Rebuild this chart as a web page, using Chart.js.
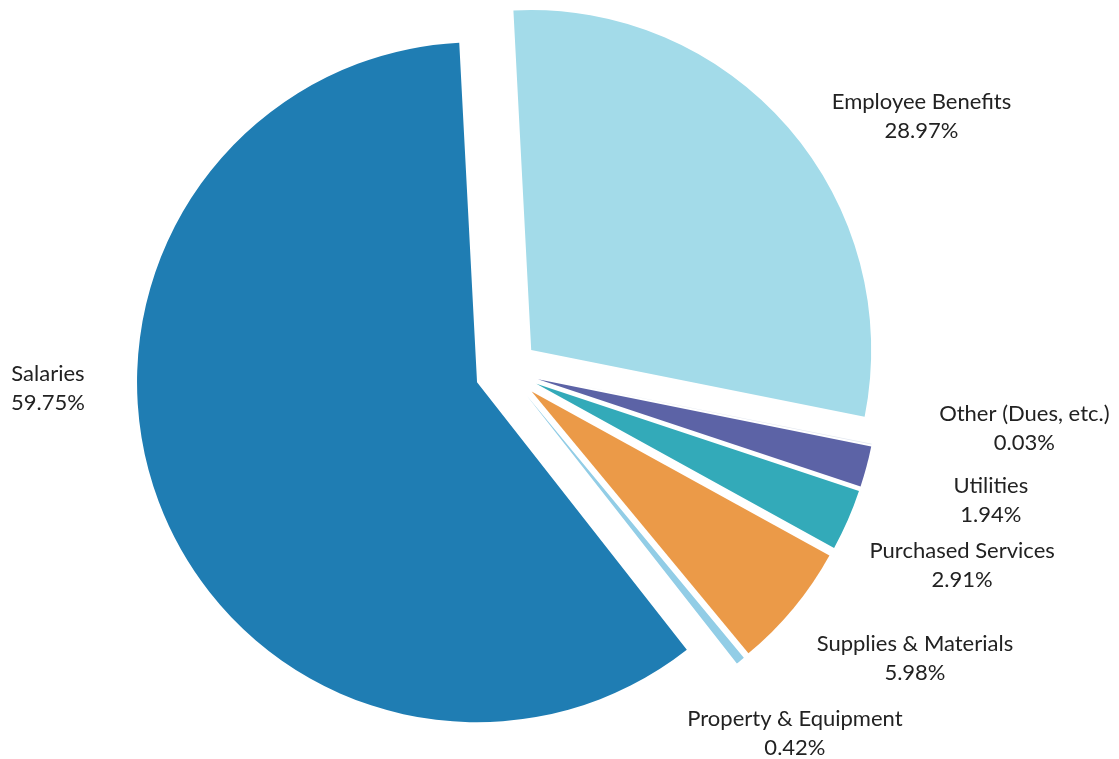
<!DOCTYPE html>
<html>
<head>
<meta charset="utf-8">
<title>Expenditures by Category</title>
<script src="https://cdn.jsdelivr.net/npm/chart.js@4/dist/chart.umd.min.js"></script>
<style>
  html, body { margin: 0; padding: 0; background: #fff; }
  #wrap { width: 1119px; height: 759px; position: relative; }
</style>
</head>
<body>
<div id="wrap"><canvas id="expenseChart"></canvas></div>
<script>
const categories = [
  'Employee Benefits',
  'Other (Dues, etc.)',
  'Utilities',
  'Purchased Services',
  'Supplies & Materials',
  'Property & Equipment',
  'Salaries'
];
const shares = [28.97, 0.03, 1.94, 2.91, 5.98, 0.42, 59.75];

const sliceColors = ['#a3dbe9', '#e3e8f0', '#5c63a6', '#33aab9', '#eb9a48', '#92cde6', '#1f7db3'];

// label placement, relative to a point just outside each slice
const labelShift = [
  [118, 1], [133, -20], [105, 28], [96, 37], [106, 37], [42, 57], [-92, -121]
];

const EXPLODE = 32;   // every slice pulled out by the same distance
const PIE_RADIUS = 340;

// push each arc out along its middle angle
const explodePlugin = {
  id: 'explode',
  afterDatasetUpdate(chart, args) {
    const meta = args.meta;
    meta.data.forEach(arc => {
      const mid = (arc.startAngle + arc.endAngle) / 2;
      arc.x += Math.cos(mid) * EXPLODE;
      arc.y += Math.sin(mid) * EXPLODE;
    });
  }
};

const sliceLabels = {
  id: 'sliceLabels',
  afterDatasetsDraw(chart) {
    const ctx = chart.ctx;
    const meta = chart.getDatasetMeta(0);
    ctx.save();
    ctx.font = '22px Lato';
    ctx.fillStyle = '#222';
    ctx.textAlign = 'center';
    ctx.textBaseline = 'middle';
    meta.data.forEach((arc, i) => {
      const mid = (arc.startAngle + arc.endAngle) / 2;
      const r = arc.outerRadius + 20;
      const x = arc.x + Math.cos(mid) * r + labelShift[i][0];
      const y = arc.y + Math.sin(mid) * r + labelShift[i][1];
      ctx.fillText(categories[i], x, y - 14);
      ctx.fillText(shares[i].toFixed(2) + '%', x, y + 15);
    });
    ctx.restore();
  }
};

new Chart(document.getElementById('expenseChart'), {
  type: 'pie',
  data: {
    labels: categories,
    datasets: [{
      data: shares,
      backgroundColor: sliceColors,
      borderWidth: 0
    }]
  },
  options: {
    responsive: true,
    maintainAspectRatio: false,
    animation: false,
    rotation: -3,
    radius: PIE_RADIUS,
    layout: { padding: { left: 0, right: 105, top: 0, bottom: 17 } },
    plugins: {
      legend: { display: false },
      tooltip: { enabled: false }
    }
  },
  plugins: [explodePlugin, sliceLabels]
});
</script>
</body>
</html>
